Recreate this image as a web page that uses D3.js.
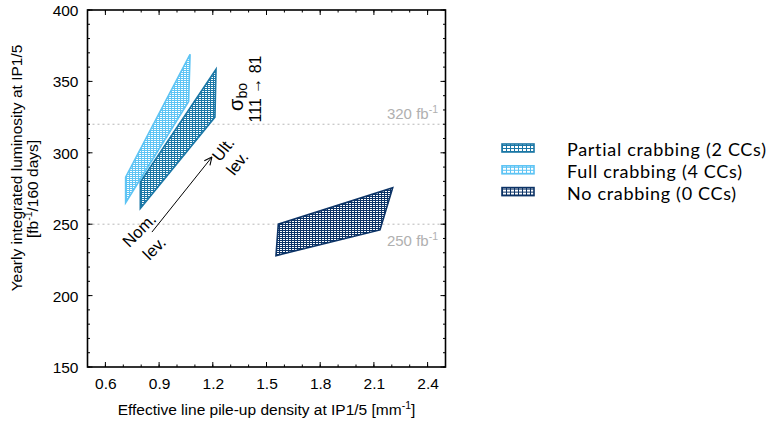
<!DOCTYPE html>
<html>
<head>
<meta charset="utf-8">
<script src="https://cdn.jsdelivr.net/npm/d3@7"></script>
<style>
  html, body { margin: 0; padding: 0; background: #fff; }
  svg { display: block; font-family: "Liberation Sans", Arial, sans-serif; }
</style>
</head>
<body>
<svg id="chart" width="775" height="421"></svg>
<script>
// Axis ticks
const xTicks = [0.6, 0.9, 1.2, 1.5, 1.8, 2.1, 2.4];
const yTicks = [150, 200, 250, 300, 350, 400];

// Scenarios: corners of each levelling region
// (nominal -> ultimate levelling, sigma_bo 111 -> 81 mb)
const seriesNames = ["Partial crabbing (2 CCs)", "Full crabbing (4 CCs)", "No crabbing (0 CCs)"];
const seriesColors = ["#1b77a6", "#5ec4f4", "#0c3366"];
const partialPileup = [0.795, 1.212, 1.218, 0.795];
const partialLumi   = [261, 325, 358.5, 279.5];
const fullPileup    = [0.713, 1.065, 1.073, 0.713];
const fullLumi      = [265, 336, 369, 283];
const noPileup      = [1.553, 2.134, 2.205, 1.566];
const noLumi        = [228, 246, 275.6, 250];

// Reference integrated-luminosity targets
const targetLumi   = [320, 250];
const targetLabels = ["320", "250"];

// Levelling arrow (data units)
const arrowFrom = [0.86, 244.5];
const arrowTo   = [1.195, 297];

const svg = d3.select("#chart");
const plot = { left: 87.5, right: 445.5, top: 10, bottom: 367 };

const x = d3.scaleLinear().domain([0.5, 2.5]).range([plot.left, plot.right]);
const y = d3.scaleLinear().domain([150, 400]).range([plot.bottom, plot.top]);

// Hatch patterns
const defs = svg.append("defs");
function hatch(id, color, w, h) {
  const p = defs.append("pattern").attr("id", id)
    .attr("patternUnits", "userSpaceOnUse").attr("width", w).attr("height", h);
  p.append("rect").attr("width", w).attr("height", h).attr("fill", "#fff");
  p.append("path").attr("d", `M0,0.5H${w}M0.5,0V${h}`)
    .attr("stroke", color).attr("stroke-width", 1).attr("fill", "none");
}
seriesColors.forEach((c, i) => {
  hatch("fill" + i, c, 3, 2);
  hatch("leg" + i, c, 4, 3);
});

// Dotted target lines
targetLumi.forEach(v => {
  svg.append("line")
    .attr("x1", plot.left).attr("x2", plot.right)
    .attr("y1", y(v)).attr("y2", y(v))
    .attr("stroke", "#b8b8b8").attr("stroke-width", 1)
    .attr("stroke-dasharray", "2,3");
});
function targetLabel(v, txt, dy) {
  const t = svg.append("text").attr("x", 438).attr("y", y(v) + dy)
    .attr("fill", "#b0b0b0").attr("font-size", 15).attr("text-anchor", "end");
  t.append("tspan").text(txt + " fb");
  t.append("tspan").attr("font-size", 10.5).attr("dy", -6).text("-1");
}
targetLabel(targetLumi[0], targetLabels[0], -5);
targetLabel(targetLumi[1], targetLabels[1], 22);

// Regions
const regions = [
  { px: partialPileup, py: partialLumi, i: 0 },
  { px: fullPileup,    py: fullLumi,    i: 1 },
  { px: noPileup,      py: noLumi,      i: 2 }
];
const line = d3.line().x(d => x(d[0])).y(d => y(d[1])).curve(d3.curveLinearClosed);
regions.forEach(r => {
  const pts = r.px.map((v, k) => [v, r.py[k]]);
  svg.append("path").attr("d", line(pts))
    .attr("fill", `url(#fill${r.i})`)
    .attr("stroke", seriesColors[r.i]).attr("stroke-width", 1.6)
    .attr("stroke-linejoin", "miter");
});

// Axes with mirrored inward ticks
const minorX = d3.range(0.5, 2.51, 0.1);
const minorY = d3.range(150, 401, 10);
const axes = svg.append("g").attr("stroke", "#000");
function tickSet(vals, isMajor) {
  return vals.map(v => ({ v, len: isMajor ? 5 : 2.5 }));
}
const xt = tickSet(minorX, false).concat(tickSet(xTicks, true));
const yt = tickSet(minorY, false).concat(tickSet(yTicks, true));
xt.forEach(t => {
  axes.append("line").attr("x1", x(t.v)).attr("x2", x(t.v))
    .attr("y1", plot.bottom).attr("y2", plot.bottom - t.len).attr("stroke-width", 1);
  axes.append("line").attr("x1", x(t.v)).attr("x2", x(t.v))
    .attr("y1", plot.top).attr("y2", plot.top + t.len).attr("stroke-width", 1);
});
yt.forEach(t => {
  axes.append("line").attr("y1", y(t.v)).attr("y2", y(t.v))
    .attr("x1", plot.left).attr("x2", plot.left + t.len).attr("stroke-width", 1);
  axes.append("line").attr("y1", y(t.v)).attr("y2", y(t.v))
    .attr("x1", plot.right).attr("x2", plot.right - t.len).attr("stroke-width", 1);
});
svg.append("rect")
  .attr("x", plot.left).attr("y", plot.top)
  .attr("width", plot.right - plot.left).attr("height", plot.bottom - plot.top)
  .attr("fill", "none").attr("stroke", "#000").attr("stroke-width", 1.6);

// Tick labels
const xAxis = d3.axisBottom(x).tickValues(xTicks).tickSize(0).tickPadding(0)
  .tickFormat(d3.format(".1f"));
const gx = svg.append("g").attr("transform", `translate(0,${plot.bottom})`).call(xAxis);
gx.select(".domain").remove();
gx.selectAll("text").attr("font-size", 15.5).attr("font-family", "'Liberation Sans', Arial, sans-serif")
  .attr("fill", "#000").attr("dy", null).attr("y", 22);

const yAxis = d3.axisLeft(y).tickValues(yTicks).tickSize(0).tickPadding(0)
  .tickFormat(d3.format("d"));
const gy = svg.append("g").attr("transform", `translate(${plot.left},0)`).call(yAxis);
gy.select(".domain").remove();
gy.selectAll("text").attr("font-size", 15.5).attr("font-family", "'Liberation Sans', Arial, sans-serif")
  .attr("fill", "#000").attr("x", -9).attr("dy", "0.36em");

// Axis titles
const xt1 = svg.append("text").attr("x", (plot.left + plot.right) / 2).attr("y", 415)
  .attr("text-anchor", "middle").attr("font-size", 15.5);
xt1.append("tspan").text("Effective line pile-up density at IP1/5 [mm");
xt1.append("tspan").attr("font-size", 10.5).attr("dy", -6).text("-1");
xt1.append("tspan").attr("dy", 6).text("]");

svg.append("text").attr("transform", "translate(22,168) rotate(-90)")
  .attr("text-anchor", "middle").attr("font-size", 15.5)
  .text("Yearly integrated luminosity at IP1/5");
const yl2 = svg.append("text").attr("transform", "translate(38,189) rotate(-90)")
  .attr("text-anchor", "middle").attr("font-size", 15.5);
yl2.append("tspan").text("[fb");
yl2.append("tspan").attr("font-size", 10.5).attr("dy", -6).text("-1");
yl2.append("tspan").attr("dy", 6).text("/160 days]");

// Levelling annotations
defs.append("marker").attr("id", "arrowhead")
  .attr("viewBox", "0 0 10 10").attr("refX", 9.5).attr("refY", 5)
  .attr("markerWidth", 9).attr("markerHeight", 9).attr("orient", "auto")
  .attr("markerUnits", "userSpaceOnUse")
  .append("path").attr("d", "M1,1L9.5,5L1,9").attr("fill", "none")
  .attr("stroke", "#000").attr("stroke-width", 1.2);
svg.append("line")
  .attr("x1", x(arrowFrom[0])).attr("y1", y(arrowFrom[1]))
  .attr("x2", x(arrowTo[0])).attr("y2", y(arrowTo[1]))
  .attr("stroke", "#000").attr("stroke-width", 1)
  .attr("marker-end", "url(#arrowhead)");

function rotLabel(txt, cx, cy, ang) {
  svg.append("text").attr("transform", `translate(${cx},${cy}) rotate(${ang})`)
    .attr("text-anchor", "middle").attr("dominant-baseline", "central")
    .attr("font-size", 16.5).text(txt);
}
rotLabel("Nom.", 139, 230, -45);
rotLabel("lev.", 154, 248, -45);
rotLabel("Ult.", 223, 149, -52);
rotLabel("lev.", 237, 163, -52);

const sig = svg.append("text").attr("transform", "translate(243,97) rotate(-90)")
  .attr("text-anchor", "middle").attr("font-size", 20);
sig.append("tspan").text("σ");
sig.append("tspan").attr("font-size", 14).attr("dy", 4).text("bo");
svg.append("text").attr("transform", "translate(261,89) rotate(-90)")
  .attr("text-anchor", "middle").attr("font-size", 16).text("111 → 81");

// Legend
const legend = svg.append("g").attr("transform", "translate(502,148)");
seriesNames.forEach((name, i) => {
  const g = legend.append("g").attr("transform", `translate(0,${i * 21.8})`);
  g.append("rect").attr("x", 0).attr("y", -4).attr("width", 32).attr("height", 8)
    .attr("fill", `url(#leg${i})`).attr("stroke", seriesColors[i]).attr("stroke-width", 1.6);
  g.append("text").attr("x", 65).attr("y", 1).attr("dominant-baseline", "central")
    .attr("font-family", "Lato, 'DejaVu Sans', sans-serif").attr("font-size", 18)
    .attr("letter-spacing", 0.7)
    .text(name);
});
</script>
</body>
</html>
